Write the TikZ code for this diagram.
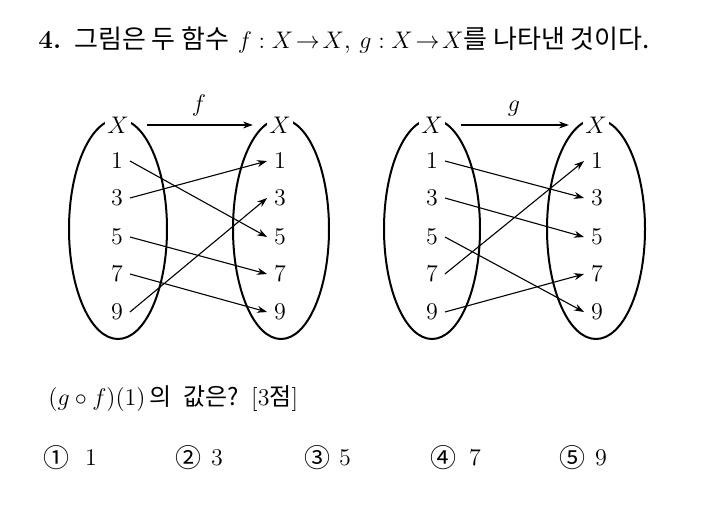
\documentclass[tikz,border=0pt]{standalone}
\usepackage{fontspec}
\usepackage{amsmath}
\usetikzlibrary{arrows.meta, positioning}
\newfontfamily\krfont{Noto Sans CJK KR}

\begin{document}
\begin{tikzpicture}[x=0.5pt, y=-0.5pt, font=\fontsize{12}{14}\selectfont,
    setline/.style={line width=1pt},
    setname/.style={fill=white, inner sep=1pt},
    mapline/.style={-{Stealth[length=5pt, width=3.5pt]}, line width=0.55pt},
    toparrow/.style={mapline, shorten <=8pt, shorten >=7pt}]
    \useasboundingbox (0,0) rectangle (701,504);

    % Title
    \node[anchor=base west, inner sep=0pt, font=\fontsize{13}{15}\selectfont] (title) at (38,48)
        {\textbf{4.}\enspace{\krfont 그림은 두 함수} $f : X\!\rightarrow\! X$, $g : X\!\rightarrow\! X${\krfont 를 나타낸 것이다.}};

    % Sets of f
    \draw[setline] (118,229) ellipse [x radius=49, y radius=110];
    \draw[setline] (281,229) ellipse [x radius=48, y radius=110];
    \node[setname] (fX1) at (118,125) {$X$};
    \node[setname] (fX2) at (280,125) {$X$};
    \foreach \n/\y in {1/161,3/198,5/237,7/274,9/312} {
        \node (fa\n) at (117,\y) {$\n$};
        \node (fb\n) at (280,\y) {$\n$};
    }
    \draw[toparrow] (fX1) -- node[above=1pt] {$f$} (fX2);
    \foreach \a/\b in {1/5,3/1,5/7,7/9,9/3}
        \draw[mapline] (fa\a.east) -- (fb\b.west);

    % Sets of g
    \draw[setline] (432,229) ellipse [x radius=48, y radius=110];
    \draw[setline] (596,229) ellipse [x radius=49, y radius=110];
    \node[setname] (gX1) at (432,125) {$X$};
    \node[setname] (gX2) at (596,125) {$X$};
    \foreach \n/\y in {1/161,3/198,5/237,7/274,9/312} {
        \node (ga\n) at (432,\y) {$\n$};
        \node (gb\n) at (597,\y) {$\n$};
    }
    \draw[toparrow] (gX1) -- node[above=1pt] {$g$} (gX2);
    \foreach \a/\b in {1/3,3/5,5/9,7/1,9/7}
        \draw[mapline] (ga\a.east) -- (gb\b.west);

    % Question
    \node[anchor=base west, inner sep=0pt] (question) at (48,405)
        {$(g\circ f)(1)$\,{\krfont 의\enspace 값은?}\enspace[3{\krfont 점}]};

    % Choices
    \foreach \i/\c/\v/\x/\y in {1/①/1/56/91, 2/②/3/188/217, 3/③/5/317/345, 4/④/7/443/475, 5/⑤/9/572/601} {
        \node[font=\fontsize{13}{15}\krfont] (c\i) at (\x,458) {\c};
        \node (v\i) at (\y,458) {$\v$};
    }
\end{tikzpicture}
\end{document}
